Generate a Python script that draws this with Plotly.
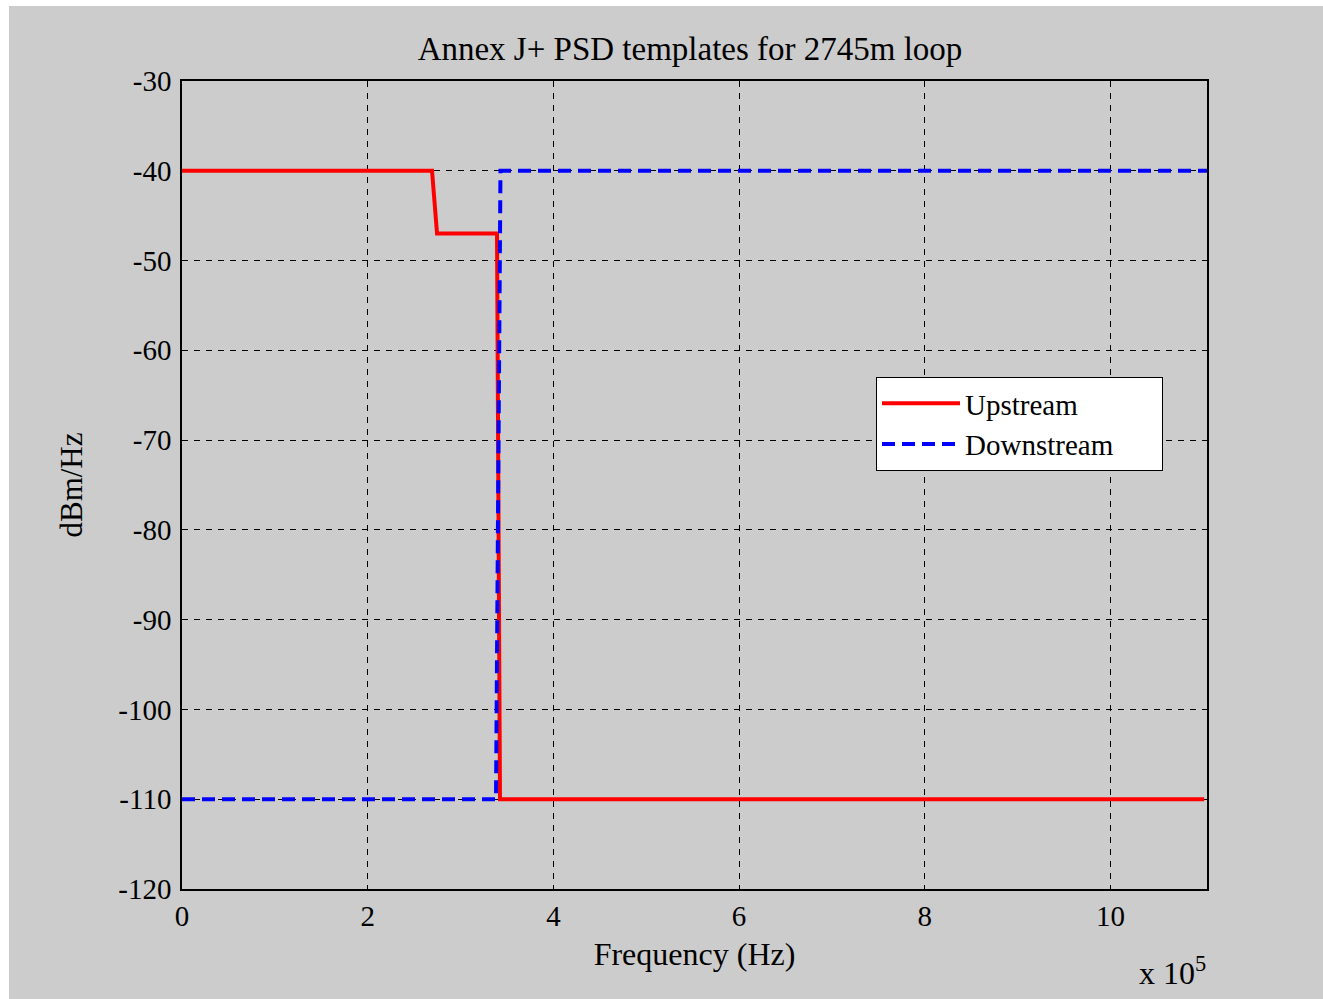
import plotly.graph_objects as go

# Data (frequency in Hz, PSD in dBm/Hz)
up_freq = [0, 2.693e5, 2.747e5, 3.393e5, 3.425e5, 1.101e6]
up_psd = [-40, -40, -47, -47, -110, -110]
dn_freq = [0, 3.382e5, 3.43e5, 1.104e6]
dn_psd = [-110, -110, -40, -40]

x_tickvals = [0, 2e5, 4e5, 6e5, 8e5, 10e5]
x_ticktext = ["0", "2", "4", "6", "8", "10"]
y_tickvals = [-120, -110, -100, -90, -80, -70, -60, -50, -40, -30]
y_ticktext = ["-120", "-110", "-100", "-90", "-80", "-70", "-60", "-50", "-40", "-30"]

FONT = "Liberation Serif"
PAD = "\u00a0" * 6

fig = go.Figure()
fig.add_trace(go.Scatter(x=up_freq, y=up_psd, mode="lines", name="Upstream",
                         line=dict(color="#ff0000", width=4)))
fig.add_trace(go.Scatter(x=dn_freq, y=dn_psd, mode="lines", name="Downstream" + PAD,
                         line=dict(color="#0000ff", width=4, dash="13px,7px")))

L, R, T, B = 182, 1207, 81, 889
W, H = 1323, 999
pw, ph = R - L, B - T

fig.add_shape(type="rect", xref="paper", yref="paper", layer="below",
              x0=(9 - L) / pw, x1=(W - L) / pw,
              y0=(B - H) / ph, y1=(B - 6) / ph,
              fillcolor="#cccccc", line=dict(width=0))

fig.add_annotation(xref="paper", yref="paper", x=(1208 - L) / pw, y=(B - 993) / ph,
                   xanchor="right", yanchor="bottom", showarrow=False,
                   text="x 10<sup>5</sup>", font=dict(family=FONT, size=32, color="black"))

fig.update_layout(
    width=W, height=H,
    margin=dict(l=L, r=W - R, t=T, b=H - B, pad=0),
    paper_bgcolor="white", plot_bgcolor="white",
    font=dict(family=FONT, size=28, color="black"),
    title=dict(text="Annex J+ PSD templates for 2745m loop", x=690 / W, xanchor="center",
               y=1 - 48 / H, yanchor="middle", font=dict(family=FONT, size=33, color="black")),
    xaxis=dict(range=[0, 1.104e6], tickvals=x_tickvals, ticktext=x_ticktext,
               showgrid=True, gridcolor="black", gridwidth=1, griddash="6px,6px",
               showline=True, linecolor="black", linewidth=1.5, mirror=True,
               ticks="", zeroline=False, ticklabelstandoff=0,
               tickfont=dict(family=FONT, size=29),
               title=dict(text="Frequency (Hz)", standoff=12, font=dict(family=FONT, size=32))),
    yaxis=dict(range=[-120, -30], tickvals=y_tickvals, ticktext=y_ticktext,
               showgrid=True, gridcolor="black", gridwidth=1, griddash="6px,6px",
               showline=True, linecolor="black", linewidth=1.5, mirror=True,
               ticks="", zeroline=False, ticklabelstandoff=3,
               tickfont=dict(family=FONT, size=29),
               title=dict(text="dBm/Hz", standoff=26, font=dict(family=FONT, size=31))),
    legend=dict(x=(876 - L) / pw, y=(B - 377) / ph, xanchor="left", yanchor="top",
                bgcolor="white", bordercolor="black", borderwidth=1,
                itemwidth=78,
                font=dict(family=FONT, size=29, color="black"), tracegroupgap=0),
    showlegend=True,
)

fig.write_html("out.html")
